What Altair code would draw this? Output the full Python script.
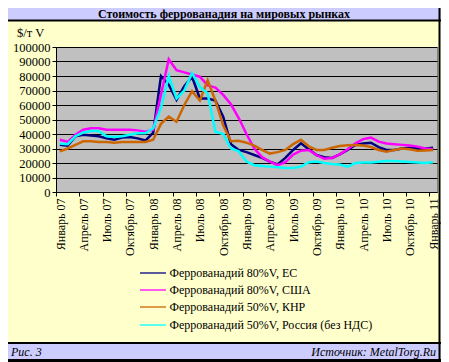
import json
import altair as alt
import pandas as pd

# ---------------- data ----------------
series_names = [
    "Феррованадий 80%V, ЕС",
    "Феррованадий 80%V, США",
    "Феррованадий 50%V, КНР",
    "Феррованадий 50%V, Россия (без НДС)",
]
series_colors = ["#000080", "#FF00FF", "#CC6600", "#00FFFF"]

# month index 0 = январь 2007 ... 48 = январь 2011
months = list(range(49))

eu_80 = [32500, 32000, 38500, 39500, 39000, 38500, 37000, 36000, 37500, 38000,
         37000, 35500, 41000, 80000, 74000, 63500, 73000, 79500, 64500, 64500,
         63000, 52000, 33000, 29000, 27500, 25500, 23500, 21000, 19000, 23500,
         29000, 33600, 29500, 25500, 24000, 23500, 26000, 29000, 32400, 33500,
         34000, 31000, 29000, 29000, 30000, 30500, 30000, 30000, 30500]

us_80 = [36000, 34500, 39500, 43000, 44000, 44000, 43000, 43000, 43000, 43000,
         42500, 41500, 43000, 67000, 91500, 84000, 82500, 81000, 79500, 73500,
         72000, 67000, 60500, 51000, 40000, 30000, 24000, 21000, 18500, 20500,
         25800, 28500, 29000, 25500, 23000, 23500, 26000, 29500, 33600, 36500,
         37500, 34700, 33500, 33000, 32500, 32000, 31300, 30000, 29500]

cn_50 = [28000, 30000, 32500, 35000, 35000, 34500, 34500, 34000, 34500, 34500,
         34500, 34500, 36000, 47000, 52000, 48500, 60000, 69500, 63000, 77000,
         63000, 46000, 35000, 35300, 34000, 32000, 29000, 26500, 27500, 29000,
         33000, 36000, 31500, 29000, 29000, 30500, 31700, 32300, 32400, 32000,
         31000, 29000, 27800, 29000, 30000, 29500, 28500, 28700, 29000]

ru_50 = [33500, 33000, 38500, 41000, 42000, 42000, 38500, 38000, 38500, 39500,
         40500, 40500, 44000, 58000, 80000, 64500, 70000, 82000, 72500, 68000,
         41500, 40000, 30000, 28000, 21000, 18500, 18000, 17500, 17000, 16500,
         16500, 17500, 20500, 21000, 20000, 19300, 19000, 17500, 20000, 20300,
         20300, 20900, 21300, 21300, 21000, 20700, 20300, 20000, 20500]

tick_labels = ["Январь 07", "Апрель 07", "Июль 07", "Октябрь 07",
               "Январь 08", "Апрель 08", "Июль 08", "Октябрь 08",
               "Январь 09", "Апрель 09", "Июль 09", "Октябрь 09",
               "Январь 10", "Апрель 10", "Июль 10", "Октябрь 10",
               "Январь 11"]

y_ticks = list(range(0, 100001, 10000))

chart_title = "Стоимость феррованадия на мировых рынках"
y_title = "$/т V"
fig_label = "Рис. 3"
source_label = "Источник: MetalTorg.Ru"

# ---------------- build table ----------------
rows = []
for name, vals in zip(series_names, [eu_80, us_80, cn_50, ru_50]):
    for m, v in zip(months, vals):
        rows.append({"m": m, "v": v, "s": name})
df = pd.DataFrame(rows)

SERIF = "Liberation Serif"
W, H = 381, 145
XL, XR = -48, 385   # visible frame limits in plot coordinates
one = pd.DataFrame({"d": [0]})

label_expr = json.dumps(tick_labels, ensure_ascii=False) + "[round((datum.value + 0.5) / 3)]"

main = alt.Chart(df).mark_line(strokeWidth=2.5).encode(
    x=alt.X("m:Q",
            scale=alt.Scale(domain=[-0.5, 48.5], nice=False, zero=False),
            axis=alt.Axis(values=[i * 3 - 0.5 for i in range(17)], labelExpr=label_expr,
                          labelAngle=270, labelOffset=4, labelOverlap=False, labelBound=False,
                          labelFlush=False, grid=False, title=None, tickSize=4,
                          tickColor="black", domainColor="black", labelPadding=2,
                          labelFont=SERIF, labelFontSize=12, labelColor="black")),
    y=alt.Y("v:Q",
            scale=alt.Scale(domain=[0, 100000], nice=False),
            axis=alt.Axis(values=y_ticks, format="d", grid=True, gridColor="black",
                          gridWidth=1, gridOpacity=1, tickSize=4, tickColor="black",
                          domainColor="black", labelPadding=2, title=None,
                          labelFont=SERIF, labelFontSize=12.5, labelColor="black")),
    color=alt.Color("s:N",
                    scale=alt.Scale(domain=series_names, range=series_colors),
                    legend=None),
    order=alt.Order("m:Q"),
)

# decorations (frame, title bar, footer)
layers = []
layers.append(alt.Chart(one).mark_rect(color="#CCCCFF").encode(
    x=alt.value(XL), x2=alt.value(XR), y=alt.value(-39), y2=alt.value(-27)))
layers.append(alt.Chart(one).mark_rule(color="black", strokeWidth=2).encode(
    x=alt.value(XL), x2=alt.value(XR), y=alt.value(-26.5)))
layers.append(alt.Chart(one).mark_text(text=chart_title, font=SERIF, fontSize=12,
                                       fontWeight="bold", align="center", baseline="middle",
                                       color="black").encode(
    x=alt.value(168), y=alt.value(-33)))
layers.append(alt.Chart(one).mark_text(text=y_title, font=SERIF, fontSize=12.5, align="left",
                                       baseline="middle", color="black").encode(
    x=alt.value(-39), y=alt.value(-14)))
# footer
layers.append(alt.Chart(one).mark_rule(color="black", strokeWidth=2).encode(
    x=alt.value(XL), x2=alt.value(XR), y=alt.value(296)))
layers.append(alt.Chart(one).mark_rect(color="#CCCCFF").encode(
    x=alt.value(XL), x2=alt.value(XR), y=alt.value(297), y2=alt.value(312)))
layers.append(alt.Chart(one).mark_rule(color="black", strokeWidth=3).encode(
    x=alt.value(XL), x2=alt.value(XR), y=alt.value(313.5)))
layers.append(alt.Chart(one).mark_rule(color="black", strokeWidth=2).encode(
    x=alt.value(XR - 1.5), y=alt.value(-39), y2=alt.value(315)))
layers.append(alt.Chart(one).mark_text(text=fig_label, font=SERIF, fontSize=12,
                                       fontStyle="italic", align="left", baseline="middle",
                                       color="black").encode(
    x=alt.value(-45), y=alt.value(304.5)))
layers.append(alt.Chart(one).mark_text(text=source_label, font=SERIF, fontSize=12,
                                       fontStyle="italic", align="right", baseline="middle",
                                       color="black").encode(
    x=alt.value(XR - 5), y=alt.value(304.5)))

# legend (drawn manually, four rows)
legend_rows_y = [226, 243, 260, 278]
for name, col, ly in zip(series_names, series_colors, legend_rows_y):
    layers.append(alt.Chart(one).mark_rule(color=col, strokeWidth=1.3).encode(
        x=alt.value(84), x2=alt.value(110), y=alt.value(ly)))
    layers.append(alt.Chart(one).mark_text(text=name, font=SERIF, fontSize=12, align="left",
                                           baseline="middle", color="black").encode(
        x=alt.value(113.5), y=alt.value(ly)))

chart = alt.layer(*layers, main).properties(
    width=W, height=H,
    autosize=alt.AutoSizeParams(type="none"),
    padding={"left": 48, "top": 39, "right": XR - W, "bottom": 170},
).configure(
    background="#FFFFCC",
).configure_view(
    fill="#C0C0C0", stroke="#808080", strokeWidth=1,
)

chart.save("out.html", embed_options={"renderer": "svg", "actions": False})
